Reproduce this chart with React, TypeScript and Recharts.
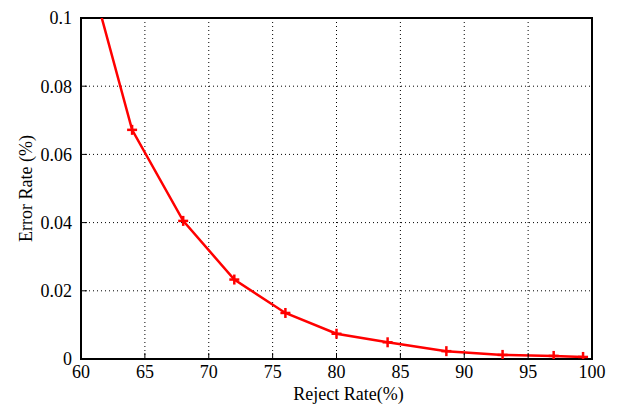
import { LineChart, Line, XAxis, YAxis, CartesianGrid, ReferenceArea } from 'recharts';

const rejectRate = [60, 64, 68, 72, 76, 80, 84, 88.6, 93, 97, 99.3];
const errorRate = [0.1225, 0.0672, 0.0405, 0.0233, 0.0135, 0.0074, 0.0049, 0.0023, 0.0012, 0.0009, 0.0006];
const xTicks = [60, 65, 70, 75, 80, 85, 90, 95, 100];
const yTicks = [0, 0.02, 0.04, 0.06, 0.08, 0.1];

const data = rejectRate.map((x, i) => ({ x, y: errorRate[i] }));

const FONT = '"Liberation Serif", "Times New Roman", serif';
const tickStyle = { fontSize: 18, fill: '#000', fontFamily: FONT };

// plus-shaped marker like the gnuplot point type 1
const PlusDot = (props: any) => {
  const { cx, cy } = props;
  if (cx == null || cy == null) return null;
  const s = 5;
  return (
    <g key={`p-${cx}-${cy}`}>
      <line x1={cx - s} y1={cy} x2={cx + s} y2={cy} stroke="#ff0000" strokeWidth={2.5} />
      <line x1={cx} y1={cy - s} x2={cx} y2={cy + s} stroke="#ff0000" strokeWidth={2.5} />
    </g>
  );
};

export default function App() {
  return (
    <div style={{ position: 'absolute', left: 0, top: 0, background: '#fff' }}>
      <LineChart width={618} height={404} data={data} margin={{ top: 18, right: 26, bottom: 0, left: 0 }}>
        <CartesianGrid stroke="#000" strokeDasharray="1 3" strokeWidth={1} />
        <XAxis
          dataKey="x"
          type="number"
          domain={[60, 100]}
          ticks={xTicks}
          allowDataOverflow
          height={45}
          tickSize={-6}
          tickMargin={12}
          tick={tickStyle}
          axisLine={{ stroke: '#000', strokeWidth: 2 }}
          tickLine={{ stroke: '#000', strokeWidth: 1 }}
          label={{ value: 'Reject Rate(%)', position: 'insideBottom', offset: 4, dx: 12, style: { fontSize: 18, fill: '#000', fontFamily: FONT } }}
        />
        <YAxis
          type="number"
          domain={[0, 0.1]}
          ticks={yTicks}
          allowDataOverflow
          width={81}
          tickSize={-6}
          tickMargin={15}
          tick={tickStyle}
          axisLine={{ stroke: '#000', strokeWidth: 2 }}
          tickLine={{ stroke: '#000', strokeWidth: 1 }}
          label={{ value: 'Error Rate (%)', angle: -90, position: 'center', dx: -15, style: { fontSize: 18, fill: '#000', fontFamily: FONT } }}
        />
        <ReferenceArea x1={60} x2={100} y1={0} y2={0.1} fill="none" stroke="#000" strokeWidth={2} ifOverflow="visible" />
        <Line
          dataKey="y"
          stroke="#ff0000"
          strokeWidth={2.5}
          dot={<PlusDot />}
          activeDot={false}
          isAnimationActive={false}
        />
      </LineChart>
    </div>
  );
}
